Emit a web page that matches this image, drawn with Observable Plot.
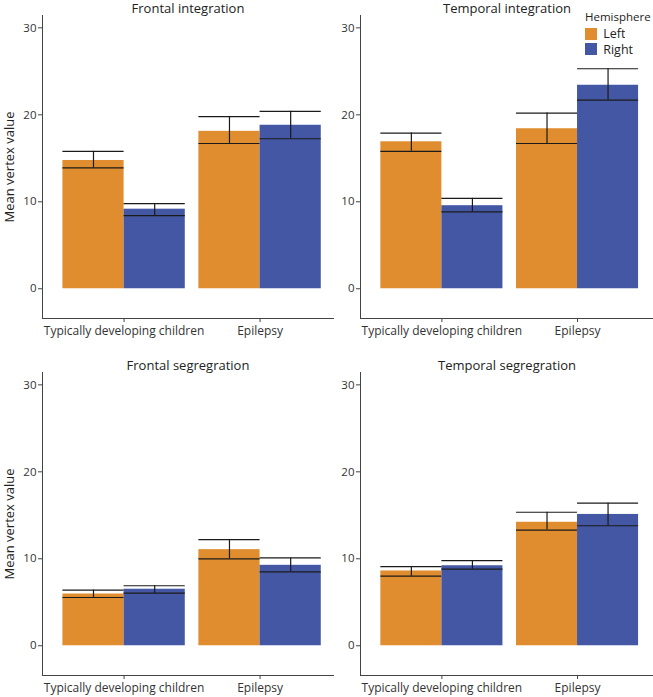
<!DOCTYPE html>
<html>
<head>
<meta charset="utf-8">
<script src="https://cdn.jsdelivr.net/npm/d3@7"></script>
<script src="https://cdn.jsdelivr.net/npm/@observablehq/plot@0.6"></script>
<style>
  html, body { margin: 0; padding: 0; background: #fff; }
  #wrap { position: relative; width: 653px; height: 697px; overflow: hidden; font-family: "Open Sans", sans-serif; }
  #legend { position: absolute; left: 585px; top: 9px; color: #222; font-family: "Open Sans", sans-serif; }
  #legend .ttl { font-size: 11.5px; line-height: 16px; margin-bottom: 1px; white-space: nowrap; }
  #legend [class$="-swatch"] { line-height: 15.5px; padding-bottom: 0 !important; }
</style>
</head>
<body>
<div id="wrap"></div>
<script>
// ---- data ----
const groups = ["Typically developing children", "Epilepsy"];
const hemispheres = ["Left", "Right"];
const panelTitles = ["Frontal integration", "Temporal integration", "Frontal segregration", "Temporal segregration"];
const yTicks = [0, 10, 20, 30];
const colors = ["#E08D2F", "#4457A5"];

// order: TD-Left, TD-Right, Epilepsy-Left, Epilepsy-Right
const frontalIntegrationMean  = [14.75, 9.15, 18.1, 18.8];
const frontalIntegrationLower = [13.9, 8.4, 16.7, 17.25];
const frontalIntegrationUpper = [15.8, 9.8, 19.8, 20.4];

const temporalIntegrationMean  = [16.9, 9.55, 18.4, 23.4];
const temporalIntegrationLower = [15.8, 8.85, 16.7, 21.7];
const temporalIntegrationUpper = [17.9, 10.4, 20.2, 25.3];

const frontalSegregationMean  = [5.95, 6.5, 11.05, 9.25];
const frontalSegregationLower = [5.55, 6.05, 10.0, 8.5];
const frontalSegregationUpper = [6.4, 6.9, 12.2, 10.1];

const temporalSegregationMean  = [8.6, 9.2, 14.2, 15.1];
const temporalSegregationLower = [8.0, 8.8, 13.3, 13.8];
const temporalSegregationUpper = [9.1, 9.8, 15.35, 16.4];

const panelData = [
  [frontalIntegrationMean, frontalIntegrationLower, frontalIntegrationUpper],
  [temporalIntegrationMean, temporalIntegrationLower, temporalIntegrationUpper],
  [frontalSegregationMean, frontalSegregationLower, frontalSegregationUpper],
  [temporalSegregationMean, temporalSegregationLower, temporalSegregationUpper]
];

// dodge layout (like ggplot position_dodge, width 0.9)
const dodgeWidth = 0.9;
function rows(mean, lower, upper) {
  return mean.map((m, i) => {
    const gi = Math.floor(i / 2) + 1;
    const h = i % 2;
    const x1 = gi - dodgeWidth / 2 + h * dodgeWidth / 2;
    return {group: groups[gi - 1], hemisphere: hemispheres[h], mean: m, lower: lower[i], upper: upper[i],
            x1, x2: x1 + dodgeWidth / 2, xc: x1 + dodgeWidth / 4};
  });
}

const wrap = document.getElementById("wrap");
const positions = [
  {left: 0, top: 0, width: 333, xmax: 2.54, ylab: true},
  {left: 318, top: 0, width: 335, xmax: 2.56, ylab: false},
  {left: 0, top: 357, width: 333, xmax: 2.54, ylab: true},
  {left: 318, top: 357, width: 335, xmax: 2.56, ylab: false}
];

panelData.forEach(([m, lo, hi], p) => {
  const data = rows(m, lo, hi);
  const pos = positions[p];
  const marks = [
    Plot.rectY(data, {x1: "x1", x2: "x2", y: "mean", fill: "hemisphere"}),
    Plot.ruleY(data, {x1: "x1", x2: "x2", y: "upper", stroke: "#1a1a1a", strokeWidth: 1.2}),
    Plot.ruleY(data, {x1: "x1", x2: "x2", y: "lower", stroke: "#1a1a1a", strokeWidth: 1.2}),
    Plot.ruleX(data, {x: "xc", y1: "lower", y2: "upper", stroke: "#1a1a1a", strokeWidth: 1.2}),
    Plot.frame({anchor: "left", stroke: "#444"}),
    Plot.frame({anchor: "bottom", stroke: "#444"}),
    Plot.axisY({ticks: yTicks, tickSize: 4, tickPadding: 2, stroke: "#444", label: null, fontSize: 11.5}),
    Plot.axisX({ticks: [1, 2], tickFormat: i => groups[i - 1], tickSize: 4, tickPadding: 4,
      stroke: "#444", label: null, fontSize: 12}),
    Plot.text([panelTitles[p]], {frameAnchor: "top", lineAnchor: "middle", dy: -6.5, fontSize: 13, fill: "#222"})
  ];
  if (pos.ylab) {
    marks.push(Plot.text(["Mean vertex value"], {frameAnchor: "left", rotate: -90, dx: -33,
      lineAnchor: "middle", textAnchor: "middle", fontSize: 13, fill: "#222"}));
  }
  const chart = Plot.plot({
    width: pos.width,
    height: 340,
    marginLeft: 42,
    marginRight: 0,
    marginTop: 15,
    marginBottom: 22,
    style: {fontFamily: "Open Sans", fontSize: "11.5px", color: "#333", background: "transparent", overflow: "visible"},
    x: {domain: [0.4, pos.xmax]},
    y: {domain: [-3.42, 31.42]},
    color: {domain: hemispheres, range: colors},
    marks
  });
  chart.style.left = pos.left + "px";
  chart.style.top = pos.top + "px";
  chart.style.position = "absolute";
  wrap.appendChild(chart);
});

// legend
const legendDiv = document.createElement("div");
legendDiv.id = "legend";
const ttl = document.createElement("div");
ttl.className = "ttl";
ttl.textContent = "Hemisphere";
legendDiv.appendChild(ttl);
const lg = Plot.legend({color: {domain: hemispheres, range: colors}, columns: 1, swatchSize: 12,
  style: {fontFamily: "Open Sans", fontSize: "12.5px", color: "#222", margin: 0}});
legendDiv.appendChild(lg);
wrap.appendChild(legendDiv);
</script>
</body>
</html>
